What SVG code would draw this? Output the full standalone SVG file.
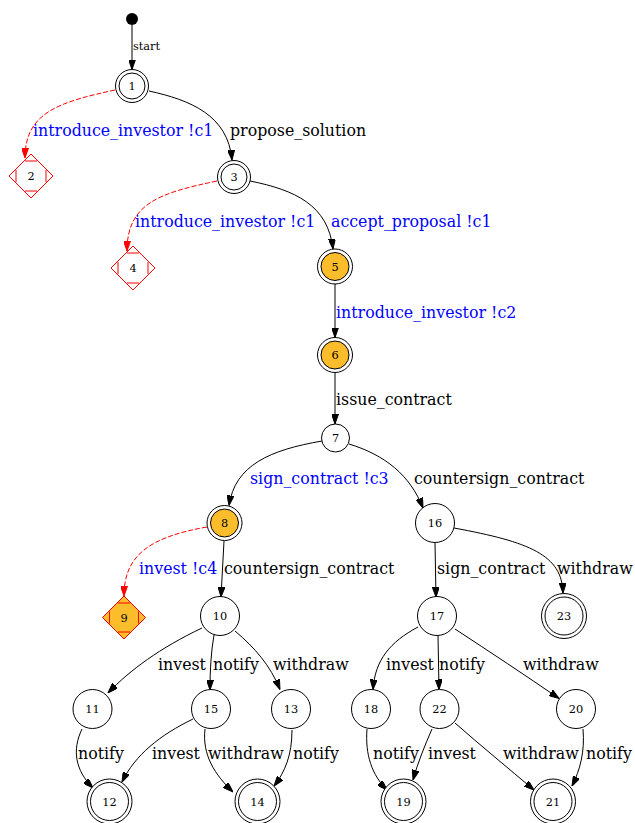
<svg xmlns="http://www.w3.org/2000/svg" width="635" height="823" viewBox="0 0 635 823">
<defs>
<marker id="ab" markerUnits="userSpaceOnUse" markerWidth="10" markerHeight="7" refX="10" refY="3.5" orient="auto"><path d="M0,0 L10,3.5 L0,7 z" fill="#000" stroke="#000" stroke-width="1"/></marker>
<marker id="ar" markerUnits="userSpaceOnUse" markerWidth="10" markerHeight="7" refX="10" refY="3.5" orient="auto"><path d="M0,0 L10,3.5 L0,7 z" fill="#f00" stroke="#f00" stroke-width="1"/></marker>
<style>
.n circle{fill:#fff;stroke:#000;stroke-width:1}
.n circle.f{fill:#fbbd2b}
.t{font-family:"DejaVu Serif","Liberation Serif",serif;font-size:11.3px;text-anchor:middle;fill:#000}
.dm{fill:#fff;stroke:#f00;stroke-width:1}
.dm.f{fill:#fbbd2b}
.e{fill:none;stroke:#000;stroke-width:1;marker-end:url(#ab)}
.d{fill:none;stroke:#f00;stroke-width:1;stroke-dasharray:5,2;marker-end:url(#ar)}
.l{font-family:"DejaVu Serif","Liberation Serif",serif;font-size:15.8px;fill:#000}
.b{fill:#00f}
.s{font-size:11.3px}
</style>
</defs>
<rect width="635" height="823" fill="#fff"/>
<g id="connectors">
<path class="e" d="M132,25 L132,69.5"/>
<text class="l s" x="133" y="49.5">start</text>
<path class="d" d="M115,90 C60,102 25,112 25,158"/>
<text class="l b" x="33" y="136">introduce_investor !c1</text>
<path class="e" d="M149,91 C190,100 228,115 232,160"/>
<text class="l" x="230" y="136">propose_solution</text>
<path class="d" d="M217,181 C160,193 127,203 127,251"/>
<text class="l b" x="135" y="227">introduce_investor !c1</text>
<path class="e" d="M250,181 C295,190 328,205 333,249"/>
<text class="l b" x="331" y="227">accept_proposal !c1</text>
<path class="e" d="M335,284 L335,337.5"/>
<text class="l b" x="336" y="318">introduce_investor !c2</text>
<path class="e" d="M335,372.5 L335,424"/>
<text class="l" x="336" y="405">issue_contract</text>
<path class="e" d="M322,441 C270,450 235,465 229,505.5"/>
<text class="l b" x="250" y="484">sign_contract !c3</text>
<path class="e" d="M349,444 C385,455 410,475 423,508"/>
<text class="l" x="414" y="484">countersign_contract</text>
<path class="d" d="M207,527 C150,537 124,555 124,596"/>
<text class="l b" x="139" y="574">invest !c4</text>
<path class="e" d="M224,541 L221,597"/>
<text class="l" x="224" y="574">countersign_contract</text>
<path class="e" d="M435,543 L436,597"/>
<text class="l" x="437" y="574">sign_contract</text>
<path class="e" d="M454,528 C530,542 562,555 563,593"/>
<text class="l" x="557" y="574">withdraw</text>
<path class="e" d="M202,628 C160,648 130,670 108,693"/>
<text class="l" x="158" y="670">invest</text>
<path class="e" d="M214,635 C211,652 210,670 210,690"/>
<text class="l" x="213" y="670">notify</text>
<path class="e" d="M235,631 C255,648 270,665 280,689.5"/>
<text class="l" x="273" y="670">withdraw</text>
<path class="e" d="M418,627 C390,642 375,660 373,689.5"/>
<text class="l" x="386" y="670">invest</text>
<path class="e" d="M438,635.5 L439,689.5"/>
<text class="l" x="439" y="670">notify</text>
<path class="e" d="M455,629 C490,652 525,675 559,698.5"/>
<text class="l" x="523" y="670">withdraw</text>
<path class="e" d="M82,729 C72,750 75,770 93,788"/>
<text class="l" x="78" y="759">notify</text>
<path class="e" d="M193,719 C160,735 135,755 122,782"/>
<text class="l" x="152" y="759">invest</text>
<path class="e" d="M205,729 C202,755 215,775 233,792"/>
<text class="l" x="208" y="759">withdraw</text>
<path class="e" d="M292,730 C292,755 285,772 274,786"/>
<text class="l" x="293" y="759">notify</text>
<path class="e" d="M367,729 C365,755 372,775 387,790"/>
<text class="l" x="373" y="759">notify</text>
<path class="e" d="M432,729 C425,745 418,762 413,780"/>
<text class="l" x="428" y="759">invest</text>
<path class="e" d="M455,723 C480,745 508,768 534,790"/>
<text class="l" x="503" y="759">withdraw</text>
<path class="e" d="M583,729 C585,752 580,770 572,786"/>
<text class="l" x="586" y="759">notify</text>
</g>
<g id="start"><circle cx="132" cy="19" r="6" fill="#000"/></g>
<g id="n1" class="n"><circle cx="132" cy="86" r="16.5"/><circle cx="132" cy="86" r="13"/><text class="t" x="132" y="90">1</text></g>
<g id="n2"><path class="dm" d="M31,154 L53,176 L31,198 L9,176 z M25,161 L37,161 M46,170 L46,182 M25,191 L37,191 M16,170 L16,182"/><text class="t" x="31" y="180">2</text></g>
<g id="n3" class="n"><circle cx="234" cy="177" r="16.5"/><circle cx="234" cy="177" r="13"/><text class="t" x="234" y="181">3</text></g>
<g id="n4"><path class="dm" d="M133,246 L155,268 L133,290 L111,268 z M127,253 L139,253 M148,262 L148,274 M127,283 L139,283 M118,262 L118,274"/><text class="t" x="133" y="272">4</text></g>
<g id="n5" class="n"><circle cx="335" cy="266.5" r="17.5"/><circle class="f" cx="335" cy="266.5" r="14"/><text class="t" x="335" y="270.5">5</text></g>
<g id="n6" class="n"><circle cx="335" cy="355" r="17.5"/><circle class="f" cx="335" cy="355" r="14"/><text class="t" x="335" y="359">6</text></g>
<g id="n7" class="n"><circle cx="335.5" cy="438" r="14"/><text class="t" x="335.5" y="442">7</text></g>
<g id="n8" class="n"><circle cx="224.5" cy="523" r="17.5"/><circle class="f" cx="224.5" cy="523" r="14"/><text class="t" x="224.5" y="527">8</text></g>
<g id="n9"><path class="dm f" d="M124,596 L145.5,617.5 L124,639 L102.5,617.5 z M118,603 L130,603 M138.5,611.5 L138.5,623.5 M118,632 L130,632 M109.5,611.5 L109.5,623.5"/><text class="t" x="124" y="621.5">9</text></g>
<g id="n10" class="n"><circle cx="220" cy="616" r="19.5"/><text class="t" x="220" y="620">10</text></g>
<g id="n16" class="n"><circle cx="435" cy="523" r="19.5"/><text class="t" x="435" y="527">16</text></g>
<g id="n17" class="n"><circle cx="437" cy="616" r="19.5"/><text class="t" x="437" y="620">17</text></g>
<g id="n23" class="n"><circle cx="564" cy="616" r="22.5"/><circle cx="564" cy="616" r="19"/><text class="t" x="564" y="620">23</text></g>
<g id="n11" class="n"><circle cx="92.5" cy="709" r="19.5"/><text class="t" x="92.5" y="713">11</text></g>
<g id="n15" class="n"><circle cx="211" cy="709" r="19.5"/><text class="t" x="211" y="713">15</text></g>
<g id="n13" class="n"><circle cx="291" cy="709" r="19.5"/><text class="t" x="291" y="713">13</text></g>
<g id="n18" class="n"><circle cx="371" cy="709" r="19.5"/><text class="t" x="371" y="713">18</text></g>
<g id="n22" class="n"><circle cx="439.5" cy="709" r="19.5"/><text class="t" x="439.5" y="713">22</text></g>
<g id="n20" class="n"><circle cx="576" cy="709" r="19.5"/><text class="t" x="576" y="713">20</text></g>
<g id="n12" class="n"><circle cx="109.5" cy="801.5" r="22.5"/><circle cx="109.5" cy="801.5" r="19"/><text class="t" x="109.5" y="805.5">12</text></g>
<g id="n14" class="n"><circle cx="257.5" cy="801.5" r="22.5"/><circle cx="257.5" cy="801.5" r="19"/><text class="t" x="257.5" y="805.5">14</text></g>
<g id="n19" class="n"><circle cx="403.5" cy="801.5" r="22.5"/><circle cx="403.5" cy="801.5" r="19"/><text class="t" x="403.5" y="805.5">19</text></g>
<g id="n21" class="n"><circle cx="553" cy="801.5" r="22.5"/><circle cx="553" cy="801.5" r="19"/><text class="t" x="553" y="805.5">21</text></g>
</svg>
